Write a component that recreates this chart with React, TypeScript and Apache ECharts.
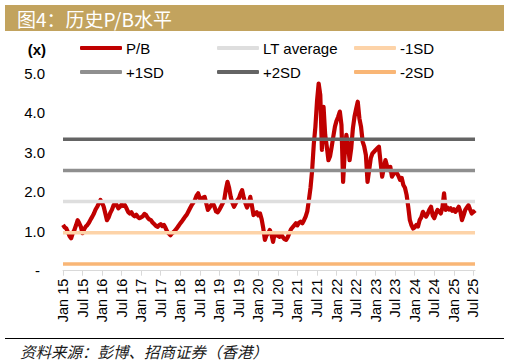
import React, { useEffect, useRef } from "react";
import * as echarts from "echarts";

// P/B, semi-monthly readings from Jan 2015 to Aug 2025
const PB = [
  1.16, 1.10, 1.07, 0.98, 0.88, 0.82, 0.95, 1.03, 1.15, 1.28,
  1.20, 1.11, 0.95, 1.05, 1.12, 1.16, 1.22, 1.30, 1.37, 1.45,
  1.55, 1.62, 1.70, 1.79, 1.72, 1.62, 1.45, 1.28, 1.35, 1.46,
  1.54, 1.65, 1.71, 1.66, 1.58, 1.62, 1.68, 1.64, 1.66, 1.58,
  1.49, 1.45, 1.48, 1.41, 1.38, 1.42, 1.36, 1.33, 1.35, 1.38,
  1.44, 1.41, 1.34, 1.30, 1.28, 1.22, 1.18, 1.14, 1.11, 1.15,
  1.18, 1.13, 1.16, 1.08, 0.99, 0.94, 0.90, 0.95, 0.98, 1.03,
  1.08, 1.14, 1.20, 1.25, 1.31, 1.37, 1.42, 1.50, 1.58, 1.66,
  1.72, 1.79, 1.90, 1.96, 1.83, 1.80, 1.85, 1.87, 1.70, 1.54,
  1.60, 1.66, 1.71, 1.62, 1.50, 1.48, 1.54, 1.62, 1.70, 1.79,
  2.05, 2.25, 2.10, 1.87, 1.72, 1.62, 1.70, 1.78, 1.83, 1.95,
  2.04, 1.85, 1.71, 1.60, 1.70, 1.87, 1.65, 1.41, 1.45, 1.48,
  1.40, 1.45, 1.30, 1.07, 0.78, 0.90, 0.95, 1.03, 0.92, 0.73,
  0.95, 0.90, 0.88, 0.86, 0.92, 0.85, 0.80, 0.78, 0.85, 0.95,
  1.05, 1.10, 1.15, 1.20, 1.15, 1.22, 1.24, 1.20, 1.28, 1.37,
  1.50, 1.79, 2.10, 2.55, 3.20, 3.65, 4.30, 4.74, 4.45, 3.06,
  4.15, 3.44, 3.14, 2.80, 2.90, 3.14, 3.40, 3.65, 3.80, 3.90,
  4.03, 3.69, 2.25, 3.00, 3.44, 3.18, 2.80, 3.10, 3.60, 3.90,
  4.10, 4.28, 3.86, 3.65, 3.27, 3.14, 2.93, 2.25, 2.55, 2.85,
  2.97, 3.01, 3.06, 3.10, 3.14, 2.75, 2.38, 2.60, 2.80, 2.65,
  2.55, 2.63, 2.38, 2.45, 2.50, 2.47, 2.40, 2.30, 2.35, 2.17,
  2.10, 1.92, 1.62, 1.28, 1.15, 1.07, 1.10, 1.16, 1.12, 1.28,
  1.35, 1.49, 1.42, 1.37, 1.45, 1.55, 1.62, 1.40, 1.33, 1.45,
  1.54, 1.50, 1.45, 1.60, 1.96, 1.54, 1.60, 1.55, 1.58, 1.52,
  1.56, 1.49, 1.55, 1.62, 1.50, 1.28, 1.40, 1.54, 1.60, 1.66,
  1.55, 1.45, 1.50, 1.45,
];

const LT_AVERAGE = 1.75;
const PLUS_1SD = 2.54;
const PLUS_2SD = 3.33;
const MINUS_1SD = 0.96;
const MINUS_2SD = 0.17;

const Y_TICKS = [0, 1, 2, 3, 4, 5];
const MONTHS = ["Jan", "Feb", "Mar", "Apr", "May", "Jun", "Jul", "Aug", "Sep", "Oct", "Nov", "Dec"];
const START_YEAR = 15;

const categories = PB.map((_, i) => {
  const m = Math.floor(i / 2);
  const yy = START_YEAR + Math.floor(m / 12);
  return `${MONTHS[m % 12]} ${yy}${i % 2 ? "b" : ""}`;
});

const LATIN = "'Liberation Sans', Arial, sans-serif";
const CJK = "'Noto Sans CJK SC', 'Noto Sans CJK TC', sans-serif";

export default function App() {
  const ref = useRef<HTMLDivElement>(null);
  useEffect(() => {
    if (!ref.current) return;
    const chart = echarts.init(ref.current, undefined, { renderer: "svg" });
    const flat = (v: number) => PB.map(() => v);
    const sdSeries = (name: string, v: number, color: string) => ({
      name,
      type: "line",
      data: flat(v),
      symbol: "none",
      color,
      itemStyle: { color },
      lineStyle: { color, width: 3.5 },
      z: 3,
      silent: true,
    });
    const legendBase = {
      orient: "vertical",
      top: 40,
      itemWidth: 42,
      itemHeight: 4,
      itemGap: 8,
      padding: 0,
      icon: "roundRect",
      selectedMode: false,
      textStyle: { fontFamily: LATIN, fontSize: 15, color: "#000", lineHeight: 16, padding: [0, 0, 0, -1] },
    };
    chart.setOption({
      animation: false,
      backgroundColor: "#fff",
      grid: { left: 63, right: 35, top: 73.3, bottom: 93.3 },
      legend: [
        { ...legendBase, left: 80, data: ["P/B", "+1SD"] },
        { ...legendBase, left: 217, data: ["LT average", "+2SD"] },
        { ...legendBase, left: 354, data: ["-1SD", "-2SD"] },
      ],
      xAxis: {
        type: "category",
        data: categories,
        boundaryGap: false,
        axisLine: { lineStyle: { color: "#D9D9D9", width: 1 } },
        axisTick: { interval: 11, length: 5, lineStyle: { color: "#D9D9D9" } },
        axisLabel: {
          interval: 11,
          rotate: 90,
          margin: 8,
          fontFamily: LATIN,
          fontSize: 14.5,
          color: "#000",
          formatter: (v: string) => v.replace("b", ""),
        },
        splitLine: { show: false },
      },
      yAxis: {
        type: "value",
        min: Y_TICKS[0],
        max: Y_TICKS[Y_TICKS.length - 1],
        interval: 1,
        axisLine: { show: false },
        axisTick: { show: false },
        splitLine: { show: false },
        axisLabel: {
          margin: 18,
          fontFamily: LATIN,
          fontSize: 15,
          color: "#000",
          formatter: (v: number) => (v === 0 ? "{d|-}" : v.toFixed(1)),
          rich: { d: { fontFamily: LATIN, fontSize: 15, color: "#000", padding: [0, 5, 0, 0] } },
        },
      },
      series: [
        {
          name: "P/B",
          type: "line",
          data: PB,
          symbol: "none",
          color: "#C00000",
          itemStyle: { color: "#C00000" },
          lineStyle: { color: "#C00000", width: 4.2, join: "round" },
          z: 2,
        },
        sdSeries("LT average", LT_AVERAGE, "#DEDEDE"),
        sdSeries("-1SD", MINUS_1SD, "#FDD3A8"),
        sdSeries("+1SD", PLUS_1SD, "#8F8F8F"),
        sdSeries("+2SD", PLUS_2SD, "#646464"),
        sdSeries("-2SD", MINUS_2SD, "#F9B676"),
      ],
      graphic: [
        { type: "rect", shape: { x: 5, y: 5, width: 499, height: 26 }, style: { fill: "#C2A35E" }, silent: true },
        {
          type: "text",
          x: 17,
          y: 18,
          style: { text: "图4：历史P/B水平", fill: "#fff", font: `19px ${CJK}`, verticalAlign: "middle", align: "left" },
        },
        {
          type: "text",
          x: 46,
          y: 49,
          style: { text: "(x)", fill: "#000", font: `bold 15px ${LATIN}`, verticalAlign: "middle", align: "right" },
        },
        { type: "line", shape: { x1: 5, y1: 338.5, x2: 504, y2: 338.5 }, style: { stroke: "#000", lineWidth: 1 } },
        {
          type: "text",
          x: 20,
          y: 351,
          style: { text: "资料来源：彭博、招商证券（香港）", fill: "#1a1a1a", font: `italic 15.5px ${CJK}`, verticalAlign: "middle", align: "left" },
        },
      ],
    });
    return () => chart.dispose();
  }, []);
  return <div ref={ref} style={{ width: 510, height: 364, position: "absolute", left: 0, top: 0 }} />;
}
